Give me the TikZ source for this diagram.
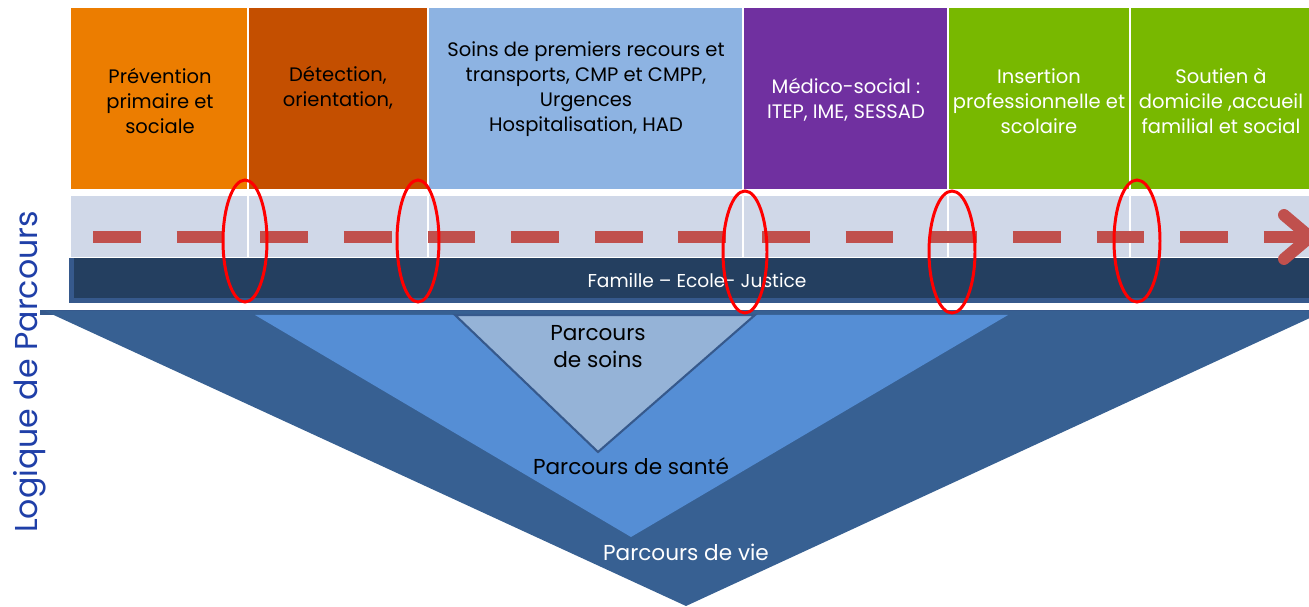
\documentclass[tikz,border=0pt]{standalone}
\usepackage{fontspec}
\setmainfont{Poppins}
\definecolor{cOrange}{HTML}{EC7D00}
\definecolor{cBrown}{HTML}{C44F00}
\definecolor{cLBlue}{HTML}{8DB3E2}
\definecolor{cPurple}{HTML}{7030A0}
\definecolor{cGreen}{HTML}{78B800}
\definecolor{cBand}{HTML}{D0D8E8}
\definecolor{cNavy}{HTML}{243F60}
\definecolor{cBevel}{HTML}{36598C}
\definecolor{cBig}{HTML}{376092}
\definecolor{cMid}{HTML}{558ED5}
\definecolor{cSmall}{HTML}{95B3D7}
\definecolor{cDash}{HTML}{C0504D}
\definecolor{cTitle}{HTML}{1F3FA8}
\tikzset{
  boxtxt/.style={align=center, inner sep=0pt, font=\fontsize{11.1}{14.2}\selectfont},
  tritxt/.style={align=center, inner sep=0pt, font=\fontsize{12.3}{15.3}\selectfont},
  sep/.style={draw=white, line width=0.8pt},
  ring/.style={draw=red, line width=1.7pt},
  dashline/.style={draw=cDash, line width=6.8pt, dash pattern=on 27.2pt off 20.4pt},
}
\begin{document}
\begin{tikzpicture}[x=0.02cm, y=-0.02cm]
\useasboundingbox (0,0) rectangle (1309,607);
\begin{scope}
\clip (0,0) rectangle (1309,607);
% top boxes
\fill[cOrange] (71,8) rectangle (248,189);
\fill[cBrown] (248,8) rectangle (428,189);
\fill[cLBlue] (428,8) rectangle (743,189);
\fill[cPurple] (743,8) rectangle (948,189);
\fill[cGreen] (948,8) rectangle (1309,189);
% grey band
\fill[cBand] (71,196) rectangle (1309,257);
% separators
\foreach \sx in {248,428,743,948,1130} \draw[sep] (\sx,8) -- (\sx,257);
% dark band
\fill[cBevel] (69,258) rectangle (1309,303);
\fill[cNavy] (74,258) rectangle (1309,298);
\node[text=white, inner sep=0pt, font=\fontsize{10.6}{12}\selectfont] (fam) at (697,281) {Famille – Ecole- Justice};
% dashed arrow
\draw[dashline] (93,237) -- (1318,237);
\draw[draw=cDash, line width=6.8pt, line cap=round, line join=round] (1284,215) -- (1310,237) -- (1284,259);
% triangles
\fill[cBevel] (40,310) rectangle (1309,315);
\fill[cBig] (45,311) -- (1325,311) -- (686,606) -- cycle;
\fill[cMid] (255,315) -- (1008,315) -- (631,537) -- cycle;
\filldraw[fill=cSmall, draw=cBevel, line width=1.2pt] (455,315) -- (755,315) -- (598,452) -- cycle;
\end{scope}
% box texts
\node[boxtxt] (t1) at (160,101) {Prévention\\primaire et\\sociale};
\node[boxtxt] (t2) at (338,88) {Détection,\\orientation,};
\node[boxtxt] (t3) at (586,89) {Soins de premiers recours et\\transports, CMP et CMPP,\\Urgences\\Hospitalisation, HAD};
\node[boxtxt, text=white] (t4) at (846,100) {Médico-social :\\ITEP, IME, SESSAD};
\node[boxtxt, text=white] (t5) at (1039,101) {Insertion\\professionnelle et\\scolaire};
\begin{scope}
\clip (1131,8) rectangle (1309,189);
\node[boxtxt, text=white] (t6) at (1221,101) {Soutien à\\domicile ,accueil\\familial et social};
\end{scope}
% rings
\draw[ring] (245,241) ellipse [x radius=0.44cm, y radius=1.22cm];
\draw[ring] (418,241) ellipse [x radius=0.42cm, y radius=1.22cm];
\draw[ring] (745,252) ellipse [x radius=0.44cm, y radius=1.22cm];
\draw[ring] (952,252) ellipse [x radius=0.46cm, y radius=1.22cm];
\draw[ring] (1137,241) ellipse [x radius=0.46cm, y radius=1.22cm];
% triangle labels
\node[tritxt] (soins) at (598,347) {Parcours\\de soins};
\node[tritxt] (sante) at (631,466) {Parcours de santé};
\node[tritxt, text=white] (vie) at (686,552) {Parcours de vie};
% side title
\node[rotate=90, text=cTitle, inner sep=0pt, font=\fontsize{18}{20}\selectfont] (title) at (30,372) {Logique de Parcours};
\end{tikzpicture}
\end{document}
